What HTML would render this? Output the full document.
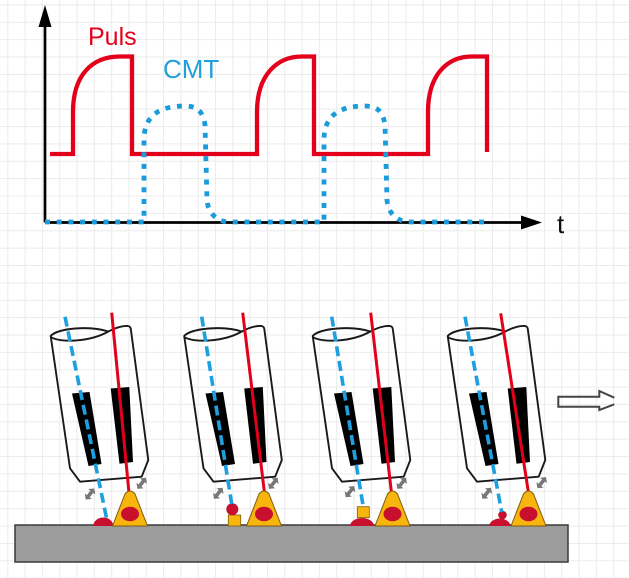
<!DOCTYPE html>
<html><head><meta charset="utf-8"><style>
html,body{margin:0;padding:0;background:#fff;}
svg{display:block;}
</style></head><body>
<svg width="629" height="578" viewBox="0 0 629 578" xmlns="http://www.w3.org/2000/svg">
<defs>
<pattern id="grid" patternUnits="userSpaceOnUse" x="7.3" y="4.45" width="17.31" height="17.37">
<path d="M0,0.5 H17.31 M0.5,0 V17.37" stroke="#ebebeb" stroke-width="1" fill="none"/>
</pattern>
<g id="torch">
<path d="M50.7,336 C58,328 90,325.5 108.3,331.5 C115,328 122,325.5 128,326 Q130.5,326.5 130.8,329 L148.3,460 L141.7,476.7 L80,481.7 L70,468.3 Z" fill="none" stroke="#1a1a1a" stroke-width="1.9" stroke-linejoin="round"/>
<path d="M50.7,337 C60,343 90,342 108.3,331.5" fill="none" stroke="#1a1a1a" stroke-width="1.9"/>
<polygon points="72,393.5 89.5,392 101.5,464 88.5,466" fill="#000"/>
<polygon points="110.7,388.5 129.3,387 133,462 119.5,463.8" fill="#000"/>
</g>
<polygon id="garr" points="-7,0 -2.8,-4.5 -2.8,-1.8 2.8,-1.8 2.8,-4.5 7,0 2.8,4.5 2.8,1.8 -2.8,1.8 -2.8,4.5" fill="#777"/>
</defs>
<rect width="629" height="578" fill="#fff"/>
<rect width="629" height="578" fill="url(#grid)"/>

<!-- Graph -->
<line x1="45" y1="222.5" x2="45" y2="24" stroke="#000" stroke-width="2.7"/>
<polygon points="45,5 38.5,27 51.5,27" fill="#000"/>
<line x1="45" y1="222.5" x2="524" y2="222.5" stroke="#000" stroke-width="2.7"/>
<polygon points="542,222.5 521,215.5 521,229.5" fill="#000"/>

<path d="M50,154 H73 V112 C73,75 92,56.5 120,56.5 H132 V154 H257 V112 C257,75 277,56.5 302,56.5 H314 V154 H428 V112 C428,75 447,56.5 472,56.5 H487 V152" fill="none" stroke="#e2001a" stroke-width="4.3"/>
<path d="M45,222 H144 V140 C144,115 160,106 185,106 C198,106 203,112 205,125 L207,200 C208,212 215,220 227,222 H324 V140 C324,115 340,106 365,106 C378,106 383,112 385,125 L387,200 C388,212 395,220 407,222 H485" fill="none" stroke="#1a9cdc" stroke-width="4.8" stroke-dasharray="5 6.7"/>

<text x="88" y="45" font-family="Liberation Sans, sans-serif" font-size="25" fill="#e2001a">Puls</text>
<text x="163" y="78" font-family="Liberation Sans, sans-serif" font-size="26" fill="#22a0dc">CMT</text>
<text x="557" y="233" font-family="Liberation Sans, sans-serif" font-size="26" fill="#111">t</text>

<!-- Plate -->
<rect x="15" y="525" width="553" height="37" fill="#9c9c9c" stroke="#3a3a3a" stroke-width="1.5"/>

<!-- Torch bodies -->
<use href="#torch"/>
<use href="#torch" transform="translate(133.5,0)"/>
<use href="#torch" transform="translate(262,0)"/>
<use href="#torch" transform="translate(397,0)"/>

<!-- Droplets -->
<path d="M93.3,526 A10,8.5 0 0 1 113.3,526 Z" fill="#c8102e"/>
<rect x="228.3" y="515" width="12.4" height="11" fill="#f7b50e" stroke="#7d5c10" stroke-width="0.8"/>
<circle cx="232.3" cy="509.3" r="6" fill="#c8102e"/>
<path d="M350,526 A12,8 0 0 1 374,526 Z" fill="#c8102e"/>
<rect x="357.3" y="506.7" width="12" height="11" fill="#f7b50e" stroke="#7d5c10" stroke-width="0.8"/>
<path d="M489.3,526 A10.5,7.5 0 0 1 510.3,526 Z" fill="#c8102e"/>
<circle cx="502.5" cy="515" r="4.3" fill="#c8102e"/>

<!-- Wires -->
<line x1="65" y1="316.7" x2="106.7" y2="519" stroke="#1e9fe0" stroke-width="3.6" stroke-dasharray="10 5"/>
<line x1="201.7" y1="316.7" x2="231.7" y2="504" stroke="#1e9fe0" stroke-width="3.6" stroke-dasharray="10 5"/>
<line x1="331.7" y1="316.7" x2="363.3" y2="507" stroke="#1e9fe0" stroke-width="3.6" stroke-dasharray="10 5"/>
<line x1="465" y1="316.7" x2="501.7" y2="512" stroke="#1e9fe0" stroke-width="3.6" stroke-dasharray="10 5"/>

<line x1="111.7" y1="312.7" x2="129" y2="493" stroke="#e2001a" stroke-width="3"/>
<line x1="242.7" y1="312.7" x2="264.5" y2="493" stroke="#e2001a" stroke-width="3"/>
<line x1="370.7" y1="312.7" x2="391.5" y2="493" stroke="#e2001a" stroke-width="3"/>
<line x1="500.7" y1="313.3" x2="528.5" y2="493" stroke="#e2001a" stroke-width="3"/>

<!-- Triangles (arcs) -->
<g stroke="#7d5c10" stroke-width="1">
<path d="M112.5,526 L125,494 Q130,488 135,494 L147.5,526 Z" fill="#f7b50e"/>
<path d="M246.5,526 L259,494 Q264,488 269,494 L281.5,526 Z" fill="#f7b50e"/>
<path d="M375,526 L387.5,494 Q392.5,488 397.5,494 L410,526 Z" fill="#f7b50e"/>
<path d="M511,526 L523.5,494 Q528.5,488 533.5,494 L546,526 Z" fill="#f7b50e"/>
</g>
<ellipse cx="130" cy="514" rx="9" ry="7.2" fill="#c8102e"/>
<ellipse cx="264" cy="514" rx="9" ry="7.2" fill="#c8102e"/>
<ellipse cx="392.5" cy="514" rx="9" ry="7.2" fill="#c8102e"/>
<ellipse cx="528.5" cy="514" rx="9" ry="7.2" fill="#c8102e"/>

<!-- Gray arrows -->
<use href="#garr" transform="translate(90,494) rotate(-52)"/>
<use href="#garr" transform="translate(141.7,483.3) rotate(-52)"/>
<use href="#garr" transform="translate(218.3,493.3) rotate(-52)"/>
<use href="#garr" transform="translate(273.3,483.3) rotate(-52)"/>
<use href="#garr" transform="translate(350,491.7) rotate(-52)"/>
<use href="#garr" transform="translate(401.7,483.3) rotate(-52)"/>
<use href="#garr" transform="translate(486.7,493.3) rotate(-52)"/>
<use href="#garr" transform="translate(541.7,482.7) rotate(-52)"/>

<!-- Direction arrow -->
<path d="M614.3,397.7 L599.3,391 L599.3,396.7 L558.3,396.7 L558.3,406.7 L599.3,406.7 L599.3,410 L614.3,404.3" fill="none" stroke="#444" stroke-width="2" stroke-linejoin="miter"/>
</svg>
</body></html>
